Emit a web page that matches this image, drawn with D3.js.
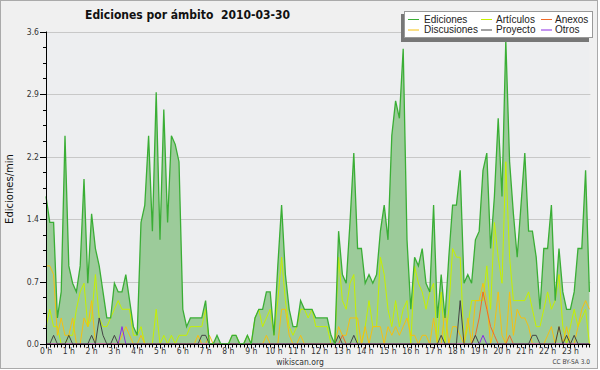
<!DOCTYPE html>
<html>
<head>
<meta charset="utf-8">
<script src="https://cdn.jsdelivr.net/npm/d3@7"></script>
<style>
  body { margin: 0; background: #fff; }
  text { font-family: "DejaVu Sans", sans-serif; fill: #222; }
  .small { font-family: "DejaVu Sans Condensed", "DejaVu Sans", sans-serif; font-stretch: condensed; }
  .legend-text { font-family: "Liberation Sans", Arial, sans-serif; }
</style>
</head>
<body>
<svg id="chart" width="600" height="370"></svg>
<script>
// edits per minute, one value per 10 minutes (6 per hour, 0h..23h50)
const hourLabels = d3.range(24).map((h) => h + " h");
const yTicks = [0, 0.72, 1.44, 2.16, 2.88, 3.6];

const ediciones = [
  1.7, 1.4, 1.4, 0.3, 0.6, 2.4,
  0.9, 0.7, 0.6, 0.9, 1.9, 0.7,
  1.5, 1.1, 0.9, 0.6, 0.3, 0.3,
  0.7, 0.6, 0.6, 0.8, 0.5, 0.2,
  0.1, 1.4, 1.6, 2.4, 1.3, 2.9,
  1.2, 2.7, 1.4, 2.4, 2.3, 2.1,
  0.4, 0.2, 0.3, 0.3, 0.3, 0.3,
  0.5, 0, 0, 0.1, 0, 0,
  0, 0.1, 0.1, 0, 0, 0.1,
  0, 0.3, 0.4, 0.4, 0.6, 0.6,
  0.1, 0.9, 1.6, 0.8, 0.4, 0.2,
  0.2, 0.5, 0.4, 0.4, 0.4, 0.3,
  0.3, 0.3, 0.3, 0.1, 0, 1.3,
  0.8, 0.7, 1.4, 2.2, 1.1, 1.1,
  0.7, 0.8, 0.7, 0.8, 1.3, 1.6,
  1.2, 2.4, 2.8, 2.6, 3.4, 1.2,
  0.4, 1.0, 0.9, 1.1, 0.7, 0.6,
  1.6, 0.3, 0.8, 0.3, 1.0, 1.6,
  1.6, 2.0, 0.7, 0.8, 0.7, 1.2,
  1.3, 2.0, 2.2, 1.1, 1.7, 2.6,
  1.7, 3.5, 2.1, 1.5, 1.0, 1.6,
  2.2, 1.3, 1.3, 1.0, 0.4, 1.1,
  1.1, 1.6, 0.5, 1.1, 0.6, 0.4,
  0.4, 0.6, 1.1, 1.1, 2.0, 0.6
];

const articulos = [
  0.2, 0.4, 0.2, 0.2, 0, 0,
  0.1, 0.1, 0.4, 0.6, 0.7, 0.2,
  0.3, 0.8, 0.3, 0.2, 0.2, 0.3,
  0.4, 0.5, 0.4, 0.4, 0.4, 0.1,
  0.1, 0.2, 0, 0, 0, 0.4,
  0, 0.1, 0, 0.1, 0, 0.1,
  0.1, 0.1, 0.2, 0.2, 0.2, 0.2,
  0.4, 0, 0, 0, 0, 0,
  0, 0.1, 0.1, 0, 0, 0.1,
  0, 0.3, 0.4, 0.2, 0.3, 0.4,
  0.1, 0.5, 1.0, 0.5, 0.2, 0.1,
  0.2, 0.4, 0.4, 0.3, 0.4, 0.2,
  0.2, 0.2, 0.2, 0, 0, 1.0,
  0.5, 0.4, 0.7, 0.8, 0, 0,
  0.2, 0.5, 0.2, 0.2, 1.0, 0.8,
  0.4, 0.2, 0.5, 0.2, 0.4, 0.5,
  0, 0.9, 0.7, 0.6, 0.4, 0.6,
  0.7, 0, 0.6, 0, 0.4, 1.1,
  1.0, 1.0, 0, 0.2, 0.5, 0.5,
  0.5, 0.5, 0.9, 0.4, 1.4, 1.0,
  0.7, 2.1, 1.0, 0.5, 0.5, 0.5,
  0.5, 0.6, 0.4, 0.2, 0.2, 0.4,
  0.6, 0.4, 0.5, 0.8, 0.2, 0,
  0.2, 0.4, 0.2, 0.3, 0.4, 0
];

const discusiones = [
  0.9, 0.9, 0.8, 0.1, 0.3, 0.1,
  0.1, 0.3, 0, 0, 0.3, 0.2,
  0.5, 0, 0, 0, 0, 0,
  0, 0, 0.1, 0.2, 0.1, 0,
  0, 0.1, 0, 0, 0, 0,
  0, 0, 0, 0, 0, 0,
  0, 0, 0, 0, 0.1, 0,
  0, 0.1, 0, 0, 0, 0,
  0, 0, 0, 0, 0, 0,
  0, 0, 0, 0, 0.1, 0,
  0, 0, 0.4, 0.4, 0.1, 0,
  0, 0.1, 0, 0, 0, 0,
  0, 0, 0, 0, 0, 0.2,
  0.1, 0.1, 0.3, 0.3, 0.3, 0,
  0.2, 0, 0.2, 0.2, 0.2, 0,
  0.2, 0.1, 0.2, 0.1, 0.2, 0.3,
  0.1, 0.1, 0, 0.1, 0.1, 0,
  0.3, 0, 0, 0.4, 0, 0.2,
  0.2, 0.1, 0, 0.3, 0, 0.5,
  0.5, 0.7, 0.5, 0, 0.2, 0.6,
  0.1, 0, 0.6, 0.1, 0.4, 0.3,
  0.3, 0.2, 0, 0, 0, 0,
  0.1, 0.2, 0, 0.2, 0, 0.2,
  0, 0, 0.2, 0.4, 0.5, 0.4
];

const proyecto = [
  0, 0, 0.1, 0, 0, 0,
  0.1, 0, 0, 0, 0, 0,
  0.1, 0, 0.3, 0.1, 0, 0,
  0.1, 0, 0, 0, 0, 0,
  0, 0, 0, 0, 0, 0,
  0, 0, 0, 0, 0, 0,
  0, 0, 0, 0, 0, 0.1,
  0.1, 0, 0, 0, 0, 0,
  0, 0, 0, 0, 0, 0,
  0, 0, 0, 0, 0, 0,
  0, 0, 0, 0, 0, 0,
  0, 0, 0, 0, 0, 0,
  0, 0, 0, 0, 0, 0.1,
  0, 0, 0, 0.1, 0, 0,
  0, 0, 0, 0, 0, 0,
  0, 0, 0, 0, 0, 0,
  0, 0, 0, 0, 0, 0,
  0, 0, 0.1, 0, 0, 0,
  0, 0.5, 0, 0, 0, 0.1,
  0, 0, 0, 0, 0, 0,
  0, 0, 0, 0, 0, 0,
  0, 0, 0.1, 0.1, 0, 0,
  0, 0, 0, 0.2, 0, 0.1,
  0, 0.1, 0, 0, 0, 0
];

const anexos = [
  0, 0, 0, 0, 0, 0,
  0, 0, 0, 0, 0, 0,
  0, 0, 0, 0, 0, 0,
  0, 0, 0, 0, 0, 0,
  0, 0, 0, 0, 0, 0,
  0, 0, 0, 0, 0, 0,
  0, 0, 0, 0, 0, 0,
  0, 0, 0, 0, 0, 0,
  0, 0, 0, 0, 0, 0,
  0, 0, 0, 0, 0, 0,
  0, 0, 0, 0, 0, 0,
  0, 0, 0, 0, 0, 0,
  0, 0, 0, 0, 0, 0,
  0.1, 0, 0, 0, 0, 0,
  0, 0, 0, 0, 0, 0,
  0, 0, 0, 0, 0, 0,
  0, 0, 0, 0, 0, 0,
  0, 0, 0, 0, 0, 0,
  0, 0, 0, 0, 0, 0.1,
  0.3, 0.6, 0.4, 0.2, 0.1, 0,
  0, 0, 0.1, 0, 0, 0,
  0, 0, 0, 0, 0, 0,
  0, 0, 0, 0, 0, 0,
  0, 0, 0, 0, 0, 0
];

const otros = [
  0, 0, 0, 0, 0, 0,
  0, 0, 0, 0, 0, 0,
  0, 0, 0, 0, 0, 0,
  0, 0, 0.2, 0, 0, 0,
  0, 0, 0, 0, 0, 0,
  0, 0, 0, 0, 0, 0,
  0, 0, 0, 0, 0, 0,
  0, 0, 0, 0, 0, 0,
  0, 0, 0, 0, 0, 0,
  0, 0, 0, 0, 0, 0,
  0, 0, 0, 0, 0, 0,
  0, 0, 0, 0, 0, 0,
  0, 0, 0, 0, 0, 0,
  0, 0, 0, 0, 0, 0,
  0, 0, 0, 0, 0, 0,
  0, 0, 0, 0, 0, 0,
  0, 0, 0, 0, 0, 0,
  0, 0, 0, 0, 0, 0,
  0, 0, 0, 0, 0, 0,
  0, 0.1, 0, 0, 0, 0,
  0, 0, 0, 0, 0, 0,
  0, 0, 0, 0, 0, 0,
  0, 0, 0, 0, 0, 0,
  0, 0, 0, 0, 0, 0
];

const seriesNames = ["Ediciones", "Artículos", "Anexos", "Discusiones", "Proyecto", "Otros"];
const seriesColors = ["#3aae35", "#c6f000", "#f06a28", "#f5c010", "#444444", "#8a2be2"];

const svg = d3.select("#chart");

// frame
svg.append("rect")
  .attr("x", 0.5).attr("y", 0.5)
  .attr("width", 597).attr("height", 368)
  .attr("fill", "#f0f0f0")
  .attr("stroke", "#aaaaaa");

const x = d3.scaleLinear().domain([0, 143]).range([46, 589.4]);
const y = d3.scaleLinear().domain([0, 3.6]).range([344, 31.5]);

// plot background
svg.append("rect")
  .attr("x", x(0)).attr("y", y(3.6))
  .attr("width", x(143) - x(0)).attr("height", y(0) - y(3.6))
  .attr("fill", "#edeef0");

// grid
svg.append("g")
  .selectAll("line")
  .data(yTicks.slice(1))
  .join("line")
  .attr("x1", x(0)).attr("x2", x(143) + 1)
  .attr("y1", (d) => Math.round(y(d)) + 0.5)
  .attr("y2", (d) => Math.round(y(d)) + 0.5)
  .attr("stroke", "#c8c8c8");

// Ediciones area + line
const area = d3.area()
  .x((d, i) => x(i))
  .y0(y(0))
  .y1((d) => y(d));
svg.append("path")
  .datum(ediciones)
  .attr("d", area)
  .attr("fill", "#9ccb9a");

const line = d3.line()
  .x((d, i) => x(i))
  .y((d) => y(d));

const drawOrder = [
  [articulos, seriesColors[1], 1],
  [discusiones, seriesColors[3], 1],
  [anexos, seriesColors[2], 1],
  [otros, seriesColors[5], 1],
  [proyecto, seriesColors[4], 1],
  [ediciones, seriesColors[0], 1.3]
];
drawOrder.forEach(([vals, color, w]) => {
  svg.append("path")
    .datum(vals)
    .attr("d", line)
    .attr("fill", "none")
    .attr("stroke", color)
    .attr("stroke-width", w)
    .attr("stroke-linejoin", "miter");
});

// y axis
const yAxis = svg.append("g");
yAxis.append("line")
  .attr("x1", 46.5).attr("x2", 46.5)
  .attr("y1", y(3.6)).attr("y2", y(0) + 1)
  .attr("stroke", "#000");
d3.range(0, 21).forEach((k) => {
  const v = k * 0.18;
  const yy = Math.round(y(v)) + 0.5;
  const major = k % 4 === 0;
  yAxis.append("line")
    .attr("x1", major ? 40 : 43).attr("x2", 46.5)
    .attr("y1", yy).attr("y2", yy)
    .attr("stroke", "#000");
});
yAxis.selectAll("text")
  .data(yTicks)
  .join("text")
  .attr("class", "small")
  .attr("x", 39)
  .attr("y", (d) => y(d) + 3)
  .attr("text-anchor", "end")
  .style("font-size", "8.5px")
  .style("fill", "#333")
  .text((d) => d3.format(".1f")(d));

svg.append("text")
  .attr("transform", "translate(13,189) rotate(-90)")
  .attr("text-anchor", "middle")
  .style("font-size", "10px")
  .style("fill", "#111")
  .text("Ediciones/min");

// x axis
const xAxis = svg.append("g");
xAxis.append("line")
  .attr("x1", 46).attr("x2", x(143) + 1)
  .attr("y1", 344.5).attr("y2", 344.5)
  .attr("stroke", "#000");
d3.range(0, 144).forEach((i) => {
  const xx = Math.round(x(i)) + 0.5;
  xAxis.append("line")
    .attr("x1", xx).attr("x2", xx)
    .attr("y1", 344.5).attr("y2", i % 6 === 0 ? 348.5 : 347.5)
    .attr("stroke", "#000");
});
xAxis.selectAll("text")
  .data(hourLabels)
  .join("text")
  .attr("class", "small")
  .attr("x", (d, h) => x(h * 6))
  .attr("y", 354)
  .attr("text-anchor", "middle")
  .style("font-size", "8.5px")
  .style("fill", "#333")
  .text((d) => d);

svg.append("text")
  .attr("class", "small")
  .attr("x", 300).attr("y", 365)
  .attr("text-anchor", "middle")
  .style("font-size", "8.5px")
  .style("fill", "#333")
  .text("wikiscan.org");

svg.append("text")
  .attr("class", "small")
  .attr("x", 590).attr("y", 364)
  .attr("text-anchor", "end")
  .style("font-size", "6.5px")
  .style("fill", "#444")
  .text("CC BY-SA 3.0");

// title
svg.append("text")
  .attr("x", 85).attr("y", 19)
  .attr("textLength", 205)
  .attr("lengthAdjust", "spacingAndGlyphs")
  .style("font-size", "12px")
  .style("font-weight", "bold")
  .style("fill", "#111")
  .style("white-space", "pre")
  .text("Ediciones por ámbito  2010-03-30");

// legend
const legend = svg.append("g");
legend.append("rect")
  .attr("x", 401).attr("y", 14)
  .attr("width", 188).attr("height", 28)
  .attr("fill", "#777");
legend.append("rect")
  .attr("x", 404.5).attr("y", 11.5)
  .attr("width", 188).attr("height", 26)
  .attr("fill", "#fff")
  .attr("stroke", "#999");
const legendLineX = [408, 481, 541];
const legendTextX = [424, 496, 555];
const legendRows = [19, 29.5];
// column-major: Ediciones, Discusiones | Artículos, Proyecto | Anexos, Otros
const legendItems = [
  ["Ediciones", 0], ["Discusiones", 3],
  ["Artículos", 1], ["Proyecto", 4],
  ["Anexos", 2], ["Otros", 5]
];
legendItems.forEach(([name, ci], k) => {
  const col = Math.floor(k / 2);
  const ly = legendRows[k % 2];
  legend.append("line")
    .attr("x1", legendLineX[col]).attr("x2", legendLineX[col] + 11)
    .attr("y1", ly + 0.5).attr("y2", ly + 0.5)
    .attr("stroke", seriesColors[ci])
    .attr("stroke-width", 1);
  legend.append("text")
    .attr("class", "legend-text")
    .attr("x", legendTextX[col]).attr("y", ly + 3.5)
    .style("font-size", "10px")
    .style("fill", "#222")
    .text(name);
});
</script>
</body>
</html>
